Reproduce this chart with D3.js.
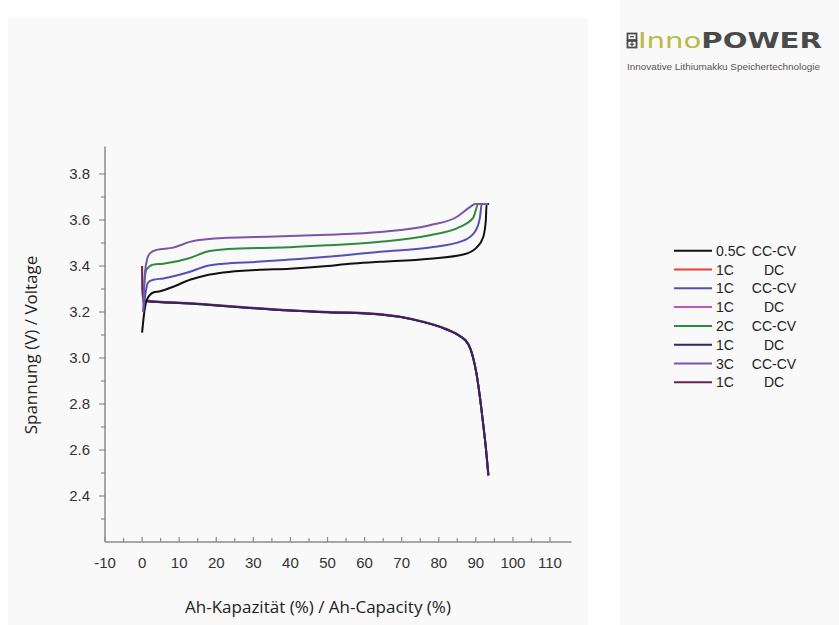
<!DOCTYPE html>
<html>
<head>
<meta charset="utf-8">
<script src="https://cdn.jsdelivr.net/npm/d3@7"></script>
<style>
  body { margin: 0; background: #fff; }
  svg { display: block; }
</style>
</head>
<body>
<script>
// capacity (%) / voltage (V) pairs
const charge05C = [[0,3.11],[0.6,3.2],[1.2,3.25],[3,3.285],[4.8,3.29],[8.4,3.31],[12.9,3.34],[17.4,3.36],[21.9,3.372],[30.9,3.383],[39.9,3.388],[50,3.40],[56,3.41],[64.2,3.418],[77.6,3.432],[86.6,3.45],[90.2,3.48],[92,3.526],[92.7,3.6],[92.9,3.67],[93.6,3.67]];
const charge1C = [[0.3,3.2],[1,3.29],[1.7,3.33],[3,3.34],[5.7,3.346],[12.9,3.375],[17.4,3.40],[21.9,3.41],[30.9,3.418],[39.9,3.428],[50,3.44],[64.2,3.462],[77.6,3.48],[86.6,3.51],[89.8,3.55],[91.1,3.61],[91.6,3.67],[93.4,3.67]];
const charge2C = [[0.3,3.24],[0.7,3.34],[1.2,3.385],[3,3.406],[5.7,3.41],[12.9,3.435],[17.4,3.462],[21.9,3.472],[30.9,3.478],[39.9,3.482],[50,3.49],[64.2,3.505],[77.6,3.534],[85.7,3.57],[89.3,3.61],[90.7,3.67],[93.3,3.67]];
const charge3C = [[0.3,3.2],[0.6,3.33],[1.1,3.41],[2.1,3.455],[3.9,3.47],[8.4,3.48],[12.9,3.505],[17.4,3.516],[21.9,3.522],[30.9,3.526],[39.9,3.53],[50,3.536],[64.2,3.548],[77.6,3.577],[84.8,3.613],[88.4,3.656],[89.8,3.67],[93.2,3.67]];
const dischargeA = [[0.8,3.25],[1.2,3.248],[12.9,3.238],[26.4,3.222],[39.9,3.207],[50,3.2],[64.2,3.19],[73.1,3.168],[82.1,3.125],[85.7,3.096],[88,3.06],[89.3,3.0],[90.2,2.93],[91.1,2.83],[92,2.71],[92.7,2.61],[93.4,2.49]];
const dischargeB = [[0.8,3.252],[1.2,3.25],[12.9,3.239],[26.4,3.223],[39.9,3.208],[50,3.201],[64.2,3.191],[73.1,3.169],[82.1,3.126],[85.7,3.097],[88,3.061],[89.3,3.0],[90.2,2.93],[91.1,2.83],[92,2.71],[92.7,2.61],[93.3,2.49]];
const dischargeC = [[0,3.40],[0.05,3.3],[0.3,3.255],[1.2,3.248],[12.9,3.237],[26.4,3.221],[39.9,3.206],[50,3.199],[64.2,3.189],[73.1,3.167],[82.1,3.124],[85.7,3.095],[88,3.059],[89.3,2.999],[90.2,2.93],[91.1,2.83],[92,2.71],[92.7,2.61],[93.4,2.49]];
const dischargeD = [[0.8,3.249],[1.2,3.247],[12.9,3.237],[26.4,3.221],[39.9,3.206],[50,3.199],[64.2,3.189],[73.1,3.167],[82.1,3.124],[85.7,3.095],[88,3.059],[89.3,2.999],[90.2,2.93],[91.1,2.83],[92,2.71],[92.7,2.61],[93.4,2.49]];

const rates = ["0.5C", "1C", "1C", "1C", "2C", "1C", "3C", "1C"];
const modes = ["CC-CV", "DC", "CC-CV", "DC", "CC-CV", "DC", "CC-CV", "DC"];
const colors = ["#111111", "#e8403a", "#5550b4", "#c455b8", "#2f8a3c", "#2b2a62", "#7a55aa", "#6e1f58"];
const seriesData = [charge05C, dischargeA, charge1C, dischargeB, charge2C, dischargeD, charge3C, dischargeC];

const xTicks = d3.range(-10, 111, 10);
const yTicks = [2.4, 2.6, 2.8, 3.0, 3.2, 3.4, 3.6, 3.8];

const W = 839, H = 625;
const svg = d3.select("body").append("svg").attr("width", W).attr("height", H);

// background panels
svg.append("rect").attr("x", 8).attr("y", 18).attr("width", 580).attr("height", H - 18).attr("fill", "#f9f9f9");
svg.append("rect").attr("x", 620).attr("y", 0).attr("width", W - 620).attr("height", H).attr("fill", "#f9f9f9");

const x = d3.scaleLinear().domain([-10, 110]).range([105, 550]);
const y = d3.scaleLinear().domain([2.2, 3.8]).range([542, 174]);

const axisColor = "#8a8a8a";
const tickFont = "'Liberation Sans', Arial, sans-serif";

// x axis
const gx = svg.append("g").attr("transform", `translate(0,${y(2.2)})`);
gx.append("line").attr("x1", x(-10)).attr("x2", x(115.8)).attr("stroke", axisColor).attr("stroke-width", 1.5);
gx.selectAll(".minor").data(d3.range(-10, 115, 5)).join("line")
    .attr("x1", d => x(d)).attr("x2", d => x(d))
    .attr("y1", 0).attr("y2", d => d % 10 === 0 ? -5 : -4)
    .attr("stroke", axisColor).attr("stroke-width", 1.2);
gx.selectAll("text").data(xTicks).join("text")
    .attr("x", d => x(d)).attr("y", 26)
    .attr("text-anchor", "middle")
    .attr("font-family", tickFont).attr("font-size", 15).attr("fill", "#333")
    .text(d => d);

// y axis
const gy = svg.append("g").attr("transform", `translate(${x(-10)},0)`);
gy.append("line").attr("y1", y(2.2)).attr("y2", y(3.92)).attr("stroke", axisColor).attr("stroke-width", 1.5);
gy.selectAll(".minor").data(d3.range(23, 39, 1).map(d => d / 10)).join("line")
    .attr("y1", d => y(d)).attr("y2", d => y(d))
    .attr("x1", d => yTicks.some(t => Math.abs(t - d) < 1e-6) ? -6 : -4).attr("x2", 0)
    .attr("stroke", axisColor).attr("stroke-width", 1.2);
gy.selectAll("text").data(yTicks).join("text")
    .attr("x", -15).attr("y", d => y(d)).attr("dy", "0.35em")
    .attr("text-anchor", "end")
    .attr("font-family", tickFont).attr("font-size", 15).attr("fill", "#333")
    .text(d => d.toFixed(1));

// axis titles
const titleFont = "'Open Sans', 'Noto Sans', sans-serif";
svg.append("text")
    .attr("x", 318).attr("y", 613)
    .attr("text-anchor", "middle")
    .attr("font-family", titleFont).attr("font-size", 17).attr("fill", "#222")
    .text("Ah-Kapazität (%) / Ah-Capacity (%)");
svg.append("text")
    .attr("transform", "translate(37,345) rotate(-90)")
    .attr("text-anchor", "middle")
    .attr("font-family", titleFont).attr("font-size", 17).attr("fill", "#222")
    .text("Spannung (V) / Voltage");

// curves
const line = d3.line()
    .x(d => x(d[0])).y(d => y(d[1]))
    .curve(d3.curveMonotoneX);

const drawOrder = [1, 3, 7, 5, 0, 2, 4, 6];
svg.append("g").attr("fill", "none").attr("stroke-width", 2).attr("stroke-linejoin", "round")
  .selectAll("path").data(drawOrder).join("path")
    .attr("stroke", i => colors[i])
    .attr("d", i => line(seriesData[i]));

// legend
const legend = svg.append("g").attr("font-family", tickFont).attr("font-size", 14).attr("fill", "#222");
const rowY = i => 250.7 + i * 18.8;
legend.selectAll("line").data(rates).join("line")
    .attr("x1", 674).attr("x2", 712)
    .attr("y1", (d, i) => rowY(i)).attr("y2", (d, i) => rowY(i))
    .attr("stroke", (d, i) => colors[i]).attr("stroke-width", 2);
legend.selectAll(".rate").data(rates).join("text").attr("class", "rate")
    .attr("x", 716).attr("y", (d, i) => rowY(i)).attr("dy", "0.36em")
    .text(d => d);
legend.selectAll(".mode").data(modes).join("text").attr("class", "mode")
    .attr("x", 774).attr("y", (d, i) => rowY(i)).attr("dy", "0.36em")
    .attr("text-anchor", "middle")
    .text(d => d);

// logo
const logo = svg.append("g");
logo.append("rect").attr("x", 627.5).attr("y", 33.5).attr("width", 9).attr("height", 6.5).attr("fill", "none").attr("stroke", "#4a4a4a").attr("stroke-width", 1.8);
logo.append("rect").attr("x", 627.5).attr("y", 41).attr("width", 9).attr("height", 6.5).attr("fill", "none").attr("stroke", "#4a4a4a").attr("stroke-width", 1.8);
logo.append("line").attr("x1", 630).attr("x2", 634).attr("y1", 36.7).attr("y2", 36.7).attr("stroke", "#4a4a4a").attr("stroke-width", 1.3);
logo.append("line").attr("x1", 630).attr("x2", 634).attr("y1", 44.2).attr("y2", 44.2).attr("stroke", "#4a4a4a").attr("stroke-width", 1.3);
logo.append("line").attr("x1", 632).attr("x2", 632).attr("y1", 42.2).attr("y2", 46.2).attr("stroke", "#4a4a4a").attr("stroke-width", 1.3);
const lt = logo.append("text").attr("x", 638).attr("y", 48)
    .attr("font-family", "'DejaVu Sans Condensed', 'DejaVu Sans', sans-serif").attr("font-size", 21.5).attr("font-weight", "bold")
    .attr("textLength", 184).attr("lengthAdjust", "spacingAndGlyphs");
lt.append("tspan").attr("fill", "#b9b94a").attr("font-weight", "normal").text("Inno");
lt.append("tspan").attr("fill", "#4a4a4a").text("POWER");
logo.append("text").attr("x", 627).attr("y", 70)
    .attr("font-family", "'Liberation Sans', Arial, sans-serif").attr("font-size", 8.5).attr("fill", "#555")
    .attr("textLength", 193).attr("lengthAdjust", "spacingAndGlyphs")
    .text("Innovative Lithiumakku Speichertechnologie");
</script>
</body>
</html>
